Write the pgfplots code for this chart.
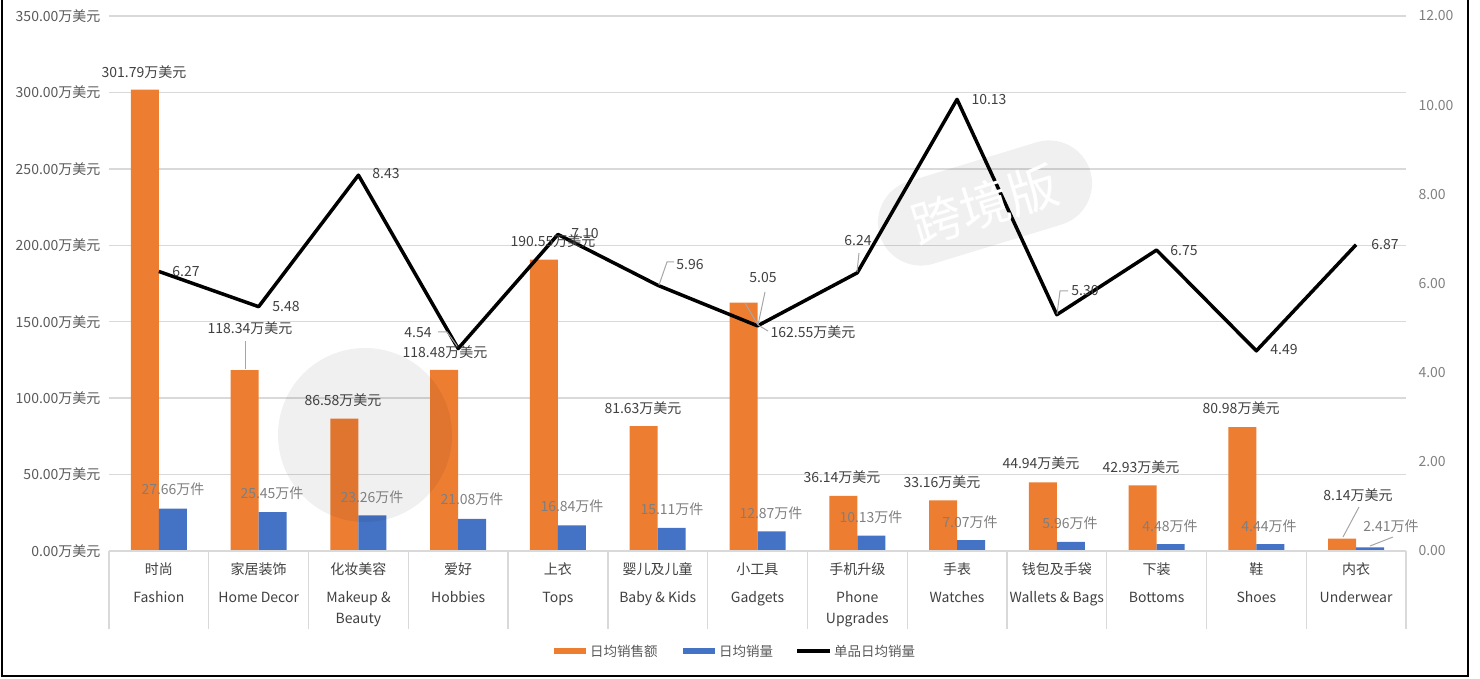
\documentclass[border=0pt]{standalone}
\usepackage{fontspec}
\setmainfont{Noto Sans CJK SC}
\usepackage{pgfplots}
\pgfplotsset{compat=1.18}
\definecolor{cOr}{HTML}{ED7D31}
\definecolor{cBl}{HTML}{4472C4}
\definecolor{cGrid}{HTML}{D9D9D9}
\definecolor{cTxt}{HTML}{404040}
\definecolor{cTick}{HTML}{595959}
\definecolor{cTickR}{HTML}{808080}
\definecolor{cLbl}{HTML}{7F7F7F}
\definecolor{cLead}{HTML}{A6A6A6}
\newcommand\fs{\fontsize{14}{21}\selectfont}
\begin{document}
\begin{tikzpicture}
\useasboundingbox (-109pt,-128pt) rectangle (1371pt,551pt);
\begin{axis}[
  at={(0,0)}, anchor=south west, scale only axis,
  width=1297pt, height=535pt,
  xmin=-0.5, xmax=12.5, ymin=0, ymax=350,
  ybar=0pt, bar width=28pt,
  axis line style={draw=none},
  major tick length=0pt,
  ytick={0,50,...,350},
  ymajorgrids, grid style={cGrid, line width=1.3pt},
  /pgf/number format/assume math mode=true,
  yticklabel={\pgfmathprintnumber[fixed,fixed zerofill,precision=2]{\tick}万美元},
  yticklabel style={text=cTick, font=\fs, xshift=-5pt},
  xtick={0,...,12},
  xticklabels={{时尚\\[7pt]Fashion},{家居装饰\\[7pt]Home Decor},{化妆美容\\[7pt]Makeup \&\\Beauty},{爱好\\[7pt]Hobbies},{上衣\\[7pt]Tops},{婴儿及儿童\\[7pt]Baby \& Kids},{小工具\\[7pt]Gadgets},{手机升级\\[7pt]Phone\\Upgrades},{手表\\[7pt]Watches},{钱包及手袋\\[7pt]Wallets \& Bags},{下装\\[7pt]Bottoms},{鞋\\[7pt]Shoes},{内衣\\[7pt]Underwear}},
  xticklabel style={align=center, text=cTxt, font=\fs, anchor=north, yshift=-8pt},
  clip=false,
]
\addplot[fill=cOr, draw=none] coordinates {(0,301.79) (1,118.34) (2,86.58) (3,118.48) (4,190.55) (5,81.63) (6,162.55) (7,36.14) (8,33.16) (9,44.94) (10,42.93) (11,80.98) (12,8.14)};
\addplot[fill=cBl, draw=none] coordinates {(0,27.66) (1,25.45) (2,23.26) (3,21.08) (4,16.84) (5,15.11) (6,12.87) (7,10.13) (8,7.07) (9,5.96) (10,4.48) (11,4.44) (12,2.41)};
\end{axis}
\begin{axis}[
  at={(0,0)}, anchor=south west, scale only axis,
  width=1297pt, height=535pt,
  xmin=-0.5, xmax=12.5, ymin=0, ymax=12,
  axis x line=none, axis y line*=right,
  axis line style={draw=none},
  major tick length=0pt,
  ytick={0,2,...,12},
  /pgf/number format/assume math mode=true,
  yticklabel={\pgfmathprintnumber[fixed,fixed zerofill,precision=2]{\tick}},
  yticklabel style={text=cTickR, font=\fs, xshift=9pt},
  clip=false,
]
\addplot[black, line width=3.5pt, line join=round, mark=none] coordinates {(0,6.27) (1,5.48) (2,8.43) (3,4.54) (4,7.10) (5,5.96) (6,5.05) (7,6.24) (8,10.13) (9,5.30) (10,6.75) (11,4.49) (12,6.87)};
\end{axis}
\begin{scope}[shift={(-109pt,551pt)}, x=1pt, y=-1pt, every node/.style={font=\fs, inner sep=0pt}]
  % watermark shapes
  \fill[black, opacity=0.06] (365,435) circle (87);
  \fill[black, opacity=0.06, rounded corners=43pt, rotate around={17:(985,203)}] (875,160) rectangle (1095,246);
  \node[text=white, font=\fontsize{50}{50}\selectfont, rotate=17] at (985,205) {跨境版};
  % x axis line and separators
  \draw[cGrid, line width=1.3pt] (109,551) -- (1406,551);
  \foreach \k in {0,...,13} { \draw[cGrid, line width=1.3pt] ({109+99.77*\k},551) -- ({109+99.77*\k},629); }
  % orange labels
  \begin{scope}[every node/.append style={text=cTxt}]
  \node at (144,72) {301.79万美元};
  \node at (250,328) {118.34万美元};
  \node at (343,400) {86.58万美元};
  \node at (445,352) {118.48万美元};
  \node at (553,241) {190.55万美元};
  \node at (643,408) {81.63万美元};
  \node at (813,332) {162.55万美元};
  \node at (842,477) {36.14万美元};
  \node at (942,482) {33.16万美元};
  \node at (1041,463) {44.94万美元};
  \node at (1141,467) {42.93万美元};
  \node at (1241,408) {80.98万美元};
  \node at (1358,495) {8.14万美元};
  % line labels
  \node at (186,272) {6.27};
  \node at (286,307) {5.48};
  \node at (386,174) {8.43};
  \node at (418,333) {4.54};
  \node at (585,234) {7.10};
  \node at (690,265) {5.96};
  \node at (763,278) {5.05};
  \node at (858,241) {6.24};
  \node at (989,100) {10.13};
  \node at (1085,291) {5.30};
  \node at (1184,251) {6.75};
  \node at (1284,350) {4.49};
  \node at (1385,245) {6.87};
  \end{scope}
  % blue labels
  \begin{scope}[every node/.append style={text=cLbl}]
  \node at (173,489) {27.66万件};
  \node at (272,493) {25.45万件};
  \node at (372,497) {23.26万件};
  \node at (472,499) {21.08万件};
  \node at (572,506) {16.84万件};
  \node at (672,509) {15.11万件};
  \node at (771,513) {12.87万件};
  \node at (871,517) {10.13万件};
  \node at (970,522) {7.07万件};
  \node at (1070,523) {5.96万件};
  \node at (1170,526) {4.48万件};
  \node at (1269,526) {4.44万件};
  \node at (1391,526) {2.41万件};
  \end{scope}
  % leader lines
  \begin{scope}[cLead, line width=1pt]
  \draw (245,341) -- (245,369);
  \draw (438,332) -- (447,332) -- (457,346);
  \draw (659,285) -- (667,262) -- (674,262);
  \draw (758,325) -- (765,292);
  \draw (745,303) -- (758,325) -- (768,331);
  \draw (857,272) -- (859,253);
  \draw (1057,314) -- (1060,291) -- (1068,291);
  \draw (1343,537) -- (1359,507);
  \draw (1370,546) -- (1393,537);
  \end{scope}
  % legend
  \fill[cOr] (554,648.5) rectangle (586,654.5);
  \node[anchor=west, text=cTick, font=\fontsize{13.5}{16}\selectfont] at (590,651) {日均销售额};
  \fill[cBl] (683,648.5) rectangle (715,654.5);
  \node[anchor=west, text=cTick, font=\fontsize{13.5}{16}\selectfont] at (719,651) {日均销量};
  \draw[black, line width=3.5pt] (797,651) -- (830,651);
  \node[anchor=west, text=cTick, font=\fontsize{13.5}{16}\selectfont] at (834,651) {单品日均销量};
  % border
  \draw[black, line width=2.5pt] (2,0) -- (2,676) -- (1468,676) -- (1468,0);
\end{scope}
\end{tikzpicture}
\end{document}
